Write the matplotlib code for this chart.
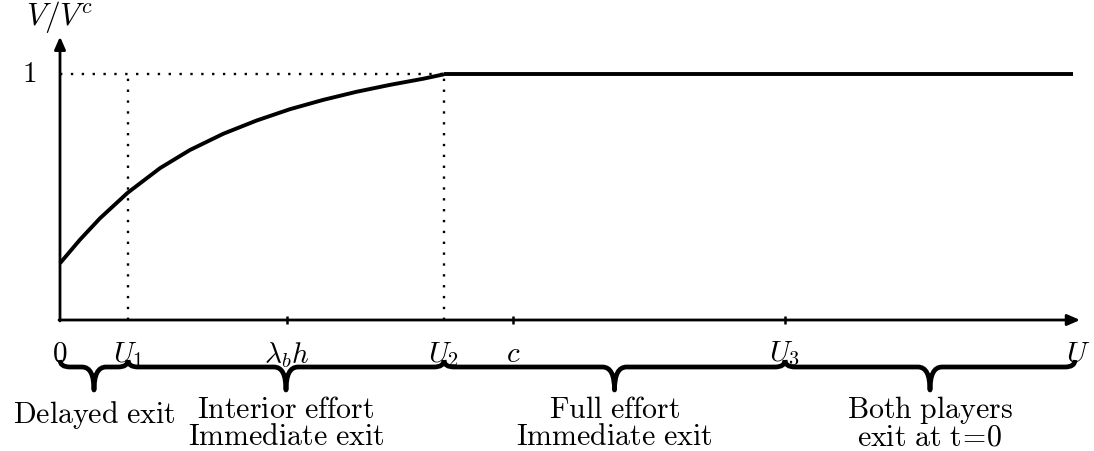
import matplotlib
matplotlib.use('Agg')
import matplotlib.pyplot as plt
from matplotlib.path import Path
from matplotlib.patches import PathPatch
from matplotlib.transforms import IdentityTransform

plt.rcParams['mathtext.fontset'] = 'cm'

# ---- data ----
curve_x = [0, 0.2, 0.4, 0.677, 1.0, 1.3, 1.633, 1.967, 2.3, 2.633, 2.967, 3.3, 3.633, 3.84]
curve_y = [0.231, 0.327, 0.414, 0.518, 0.618, 0.692, 0.758, 0.812, 0.858, 0.896, 0.929, 0.957, 0.982, 1.0]

U1 = 0.68
lam_h = 2.27
U2 = 3.84
c_val = 4.53
U3 = 7.25
U_end = 10.15

flat_x = [U2, 10.13]
flat_y = [1.0, 1.0]

tick_positions = [0, U1, lam_h, U2, c_val, U3, 10.18]
tick_labels = [r'$0$', r'$U_1$', r'$\lambda_b h$', r'$U_2$', r'$c$', r'$U_3$', r'$U$']
tick_marks = [lam_h, c_val, U3]

region_bounds = [(0, U1), (U1, U2), (U2, U3), (U3, U_end)]
region_lines = [
    [r'$\mathrm{Delayed\ exit}$'],
    [r'$\mathrm{Interior\ effort}$', r'$\mathrm{Immediate\ exit}$'],
    [r'$\mathrm{Full\ effort}$', r'$\mathrm{Immediate\ exit}$'],
    [r'$\mathrm{Both\ players}$', r'$\mathrm{exit\ at\ t\!=\!0}$'],
]

# ---- figure ----
W, H = 1094, 451
fig = plt.figure(figsize=(W / 100, H / 100), dpi=100)
ymax = (320 - 36.7) / 245.7
ax = fig.add_axes([60 / W, (H - 320) / H, 1020 / W, (320 - 36.7) / H])
ax.set_xlim(0, 10.2)
ax.set_ylim(0, ymax)
ax.axis('off')

PT = 0.72  # pixels -> points
FS_MATH = 21
FS_TEXT = 21.5

arrow = dict(arrowstyle='-|>,head_length=0.75,head_width=0.33', lw=2.0,
             color='k', shrinkA=0, shrinkB=0, mutation_scale=10)
ax.annotate('', xy=(10.2, 0), xytext=(-0.01, 0), arrowprops=arrow, annotation_clip=False)
ax.annotate('', xy=(0, ymax), xytext=(0, -0.004), arrowprops=arrow, annotation_clip=False)

# dotted guides
dot = dict(ls=(0, (1, 3.6)), lw=1.7, color='k', clip_on=False)
ax.plot([0, U2], [1, 1], **dot)
ax.plot([U1, U1], [0, 1], **dot)
ax.plot([U2, U2], [0, 1], **dot)

# curve
ax.plot(curve_x, curve_y, color='k', lw=2.8, solid_joinstyle='round',
        solid_capstyle='butt', clip_on=False, zorder=5)
ax.plot(flat_x, flat_y, color='k', lw=2.8, solid_capstyle='butt',
        clip_on=False, zorder=5)

# tick marks
for xt in tick_marks:
    ax.plot([xt], [0], marker='|', ms=5.5, mew=1.8, color='k', clip_on=False)

# tick labels
for xt, lab in zip(tick_positions, tick_labels):
    ax.annotate(lab, xy=(xt, 0), xytext=(0, -20 * PT), textcoords='offset points',
                ha='center', va='top', fontsize=FS_MATH, annotation_clip=False)

# y labels
ax.annotate(r'$1$', xy=(0, 1), xytext=(-31 * PT, 0), textcoords='offset points',
            ha='center', va='center', fontsize=FS_MATH, annotation_clip=False)
ax.annotate(r'$V/V^c$', xy=(0, ymax), xytext=(0, 1.5 * PT), textcoords='offset points',
            ha='center', va='bottom', fontsize=22.5, annotation_clip=False)

# braces (display coordinates derived from data)
y_axis_disp = ax.transData.transform((0, 0))[1]
y_end = y_axis_disp - 40
y_line = y_axis_disp - 47
y_tip = y_axis_disp - 70


def brace(xa, xb, q_end=10, q_mid=12):
    xa = ax.transData.transform((xa, 0))[0]
    xb = ax.transData.transform((xb, 0))[0]
    xm = 0.5 * (xa + xb)
    verts = [(xa, y_end), (xa, y_line), (xa + q_end, y_line),
             (xm - q_mid, y_line),
             (xm, y_line), (xm, y_tip),
             (xm, y_line), (xm + q_mid, y_line),
             (xb - q_end, y_line),
             (xb, y_line), (xb, y_end)]
    codes = [Path.MOVETO, Path.CURVE3, Path.CURVE3,
             Path.LINETO,
             Path.CURVE3, Path.CURVE3,
             Path.CURVE3, Path.CURVE3,
             Path.LINETO,
             Path.CURVE3, Path.CURVE3]
    p = PathPatch(Path(verts, codes), facecolor='none', edgecolor='k', lw=3.4,
                  capstyle='butt', joinstyle='round', transform=IdentityTransform())
    fig.add_artist(p)


for (a, b), lines in zip(region_bounds, region_lines):
    brace(a, b)
    xm = 0.5 * (a + b)
    if len(lines) == 1:
        offs = [102.7]
    else:
        offs = [98.5, 125]
    for ln, o in zip(lines, offs):
        ax.annotate(ln, xy=(xm, 0), xytext=(0, -o * PT), textcoords='offset points',
                    ha='center', va='baseline', fontsize=FS_TEXT, annotation_clip=False)

fig.savefig('out.png', dpi=100)
